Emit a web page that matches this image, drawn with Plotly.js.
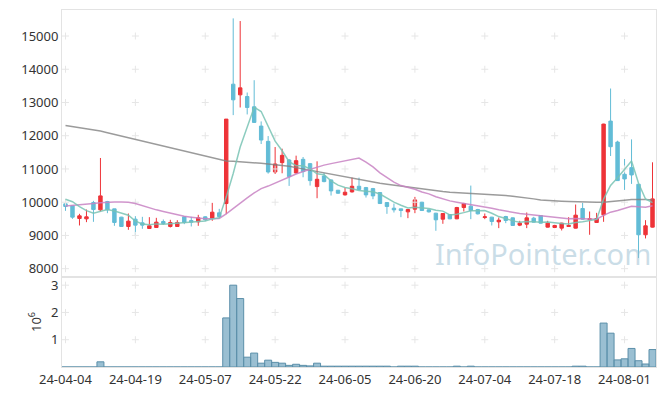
<!DOCTYPE html>
<html><head><meta charset="utf-8">
<script src="https://cdn.plot.ly/plotly-3.0.1.min.js"></script>
<style>html,body{margin:0;padding:0;background:#fff;}#chart{width:665px;height:396px;}</style>
</head><body><div id="chart"></div>
<script>
const dates = ["24-04-04","24-04-05","24-04-08","24-04-09","24-04-11","24-04-12","24-04-15","24-04-16","24-04-17","24-04-18","24-04-19","24-04-22","24-04-23","24-04-24","24-04-25","24-04-26","24-04-29","24-04-30",
"24-05-02","24-05-03","24-05-07","24-05-08","24-05-09","24-05-10","24-05-13","24-05-14","24-05-16","24-05-17","24-05-20","24-05-21","24-05-22","24-05-23","24-05-24","24-05-27","24-05-28","24-05-29","24-05-30","24-05-31",
"24-06-03","24-06-04","24-06-05","24-06-07","24-06-10","24-06-11","24-06-12","24-06-13","24-06-14","24-06-17","24-06-18","24-06-19","24-06-20","24-06-21","24-06-24","24-06-25","24-06-26","24-06-27","24-06-28",
"24-07-01","24-07-02","24-07-03","24-07-04","24-07-05","24-07-08","24-07-09","24-07-10","24-07-11","24-07-12","24-07-15","24-07-16","24-07-17","24-07-18","24-07-19","24-07-22","24-07-23","24-07-24","24-07-25","24-07-26","24-07-29","24-07-30","24-07-31",
"24-08-01","24-08-02","24-08-05","24-08-06","24-08-07"];

const openP = [9950,9890,9510,9500,9990,9770,10020,9800,9550,9270,9490,9380,9210,9240,9420,9270,9270,9560,9450,9410,9560,9510,9680,9960,13550,13230,13180,12870,12290,11830,10910,11190,11270,10880,11290,11160,10470,10790,10670,10360,10220,10310,10480,10440,10410,10290,9990,9820,9800,9710,9790,10000,9770,9670,9490,9630,9500,9840,9880,9780,9540,9550,9410,9570,9530,9310,9340,9520,9600,9250,9240,9220,9270,9220,9810,9480,9390,9620,12440,11810,10840,11040,10540,9020,9250];
const highP = [9960,9890,9650,9780,10040,11330,10040,9800,9560,9660,9580,9560,9550,9530,9480,9470,9460,9570,9560,9620,9580,9980,9800,12500,15530,15450,13300,13670,12430,11990,11660,11610,11300,11400,11360,11180,11230,10880,10680,10370,10440,10740,10740,10460,10430,10300,10000,9960,9800,9790,10160,10010,9780,9680,9670,9640,9860,9980,10500,9800,9660,9560,9540,9590,9540,9440,9690,9560,9610,9440,9320,9380,9550,9930,9980,9720,9680,12360,13420,11850,11300,11890,10550,9460,11200];
const lowP = [9740,9500,9300,9400,9410,9720,9670,9290,9260,9170,9010,9200,9200,9230,9320,9240,9260,9340,9270,9290,9430,9440,9530,9640,12620,12850,12640,12390,11750,10860,10850,10870,10490,10860,10750,10500,10120,10600,10200,10250,10200,10290,10360,10140,10090,9950,9650,9690,9550,9520,9670,9740,9690,9140,9350,9490,9490,9720,9490,9630,9490,9300,9220,9370,9290,9280,9220,9390,9360,9240,9220,9150,9260,9210,9480,9020,9380,9410,11390,10640,10370,10550,8320,8910,9240];
const closeP = [9870,9550,9590,9560,9780,10190,9770,9390,9270,9430,9310,9310,9290,9400,9360,9390,9390,9390,9400,9530,9470,9700,9570,12500,13080,13440,12850,12400,11870,10910,11150,11410,10770,11250,10920,10650,10690,10620,10340,10270,10300,10480,10380,10220,10190,9960,9870,9770,9750,9780,10070,9750,9710,9470,9660,9500,9840,9960,9750,9650,9560,9420,9460,9450,9300,9370,9530,9400,9370,9370,9300,9370,9300,9610,9490,9500,9510,12350,11670,10650,10700,10820,9020,9290,10100];

const ma5 = [10090,10015,9865,9745,9670,9734,9778,9738,9680,9610,9434,9342,9322,9348,9334,9350,9366,9386,9386,9420,9436,9498,9534,10154,10864,11658,12288,12854,12728,12294,11836,11548,11222,11098,11100,11000,10856,10826,10644,10514,10444,10402,10354,10330,10314,10246,10124,10002,9908,9826,9848,9824,9812,9756,9732,9618,9636,9686,9742,9740,9752,9668,9568,9508,9438,9400,9422,9410,9394,9408,9394,9362,9342,9390,9414,9454,9482,10092,10504,10736,10976,11238,10572,10096,9986];
const ma20 = [9886,9900,9920,9940,9960,9985,10000,10006,10006,9995,9960,9890,9820,9770,9720,9670,9620,9580,9550,9520,9500,9505,9510,9650,9815,9975,10130,10280,10410,10485,10575,10680,10755,10850,10925,10990,11055,11115,11160,11200,11240,11280,11330,11205,11060,10885,10735,10605,10500,10440,10390,10305,10250,10165,10100,10040,10000,9965,9935,9905,9870,9815,9770,9730,9690,9660,9640,9620,9600,9585,9545,9525,9505,9510,9500,9500,9490,9605,9700,9750,9810,9880,9860,9850,9890];
const ma120 = [12310,12280,12240,12210,12180,12140,12090,12040,11990,11940,11890,11840,11790,11740,11680,11630,11580,11520,11470,11420,11370,11320,11270,11240,11230,11220,11210,11190,11170,11150,11130,11110,11080,11040,11000,10950,10910,10870,10830,10800,10770,10730,10690,10650,10610,10570,10540,10510,10480,10450,10420,10390,10370,10340,10320,10300,10290,10280,10270,10260,10250,10240,10230,10200,10180,10160,10130,10100,10070,10050,10040,10030,10020,10010,10000,10000,9995,9995,10010,10040,10060,10080,10090,10080,10070];

// volume in millions of shares
const volume = [0,0,0,0,0,0.19,0,0,0,0,0,0,0,0,0,0,0,0,0,0,0,0,0,1.80,3.00,2.51,0.36,0.51,0.14,0.25,0.17,0.14,0.06,0.10,0.06,0.04,0.14,0.03,0.03,0.03,0.03,0.03,0.03,0.03,0.03,0.03,0.03,0,0.03,0.03,0.03,0,0,0,0,0,0.03,0,0.03,0,0,0,0,0,0,0,0,0,0,0,0,0,0,0.03,0.03,0,0,1.61,1.24,0.26,0.30,0.68,0.23,0.11,0.64];

const xTickLabels = ["24-04-04","24-04-19","24-05-07","24-05-22","24-06-05","24-06-20","24-07-04","24-07-18","24-08-01"];
const priceTicks = [8000,9000,10000,11000,12000,13000,14000,15000];
const volTicks = [1,2,3];

// grid "+" markers at tick intersections
const gx = [], gy = [], vx = [], vy = [];
xTickLabels.forEach(d => { priceTicks.forEach(p => { gx.push(d); gy.push(p); }); volTicks.forEach(v => { vx.push(d); vy.push(v); }); });

const crossMarker = {symbol:'cross-thin', size:5, color:'#e6e6e6', line:{color:'#e6e6e6', width:1}};
const fontFam = '"Noto Sans", "Open Sans", sans-serif';

const traces = [
  {type:'scatter', mode:'markers', x:gx, y:gy, xaxis:'x', yaxis:'y', marker:crossMarker, hoverinfo:'skip', showlegend:false},
  {type:'scatter', mode:'markers', x:vx, y:vy, xaxis:'x2', yaxis:'y2', marker:crossMarker, hoverinfo:'skip', showlegend:false},
  {type:'scatter', mode:'lines', x:dates, y:ma120, xaxis:'x', yaxis:'y', line:{color:'rgba(130,130,130,0.8)', width:1.5}, hoverinfo:'skip', showlegend:false},
  {type:'scatter', mode:'lines', x:dates, y:ma20, xaxis:'x', yaxis:'y', line:{color:'rgba(200,130,195,0.85)', width:1.5}, hoverinfo:'skip', showlegend:false},
  {type:'scatter', mode:'lines', x:dates, y:ma5, xaxis:'x', yaxis:'y', line:{color:'rgba(120,195,180,0.85)', width:1.5}, hoverinfo:'skip', showlegend:false},
  {type:'candlestick', x:dates, open:openP, high:highP, low:lowP, close:closeP, xaxis:'x', yaxis:'y',
   increasing:{line:{color:'#ee3338', width:1}, fillcolor:'#ee3338'},
   decreasing:{line:{color:'#62bcd6', width:1}, fillcolor:'#62bcd6'},
   whiskerwidth:0, hoverinfo:'skip', showlegend:false},
  {type:'bar', x:dates, y:volume, xaxis:'x2', yaxis:'y2',
   marker:{color:'rgba(120,170,195,0.75)', line:{color:'#5b8fa9', width:1}}, hoverinfo:'skip', showlegend:false}
];

const volFrac = 90/357;
const layout = {
  width:665, height:396,
  margin:{l:62, r:9, t:10, b:29},
  paper_bgcolor:'#fff', plot_bgcolor:'#fff',
  showlegend:false, hovermode:false, bargap:0,
  font:{family:fontFam, size:13, color:'#333'},
  xaxis:{type:'category', categoryorder:'array', categoryarray:dates, range:[-0.5, 84.5], anchor:'y',
         showticklabels:false, showgrid:false, zeroline:false, showline:true, mirror:true, linecolor:'#e3e3e3', linewidth:1,
         rangeslider:{visible:false}, ticks:''},
  xaxis2:{type:'category', categoryorder:'array', categoryarray:dates, range:[-0.5, 84.5], anchor:'y2', matches:'x',
          tickmode:'array', tickvals:xTickLabels, ticktext:xTickLabels, tickangle:0,
          showgrid:false, zeroline:false, showline:true, mirror:true, linecolor:'#e3e3e3', linewidth:1, ticks:'',
          tickfont:{size:13, color:'#333'}},
  yaxis:{domain:[volFrac, 1], range:[7750, 15782], tickmode:'array', tickvals:priceTicks, ticktext:priceTicks.map(String),
         showgrid:false, zeroline:false, showline:true, mirror:true, linecolor:'#e3e3e3', linewidth:1, ticks:'',
         tickfont:{size:13, color:'#333'}},
  yaxis2:{domain:[0, volFrac], range:[0, 3.3], tickmode:'array', tickvals:volTicks, ticktext:volTicks.map(String),
          showgrid:false, zeroline:false, showline:true, mirror:true, linecolor:'#e3e3e3', linewidth:1, ticks:'',
          tickfont:{size:13, color:'#333'},
          title:{text:'10<sup>6</sup>', font:{size:13, color:'#333'}, standoff:6}},
  annotations:[{text:'InfoPointer.com', xref:'paper', yref:'paper', x:1, xshift:-3, y:volFrac, yshift:2, xanchor:'right', yanchor:'bottom',
                showarrow:false, font:{family:fontFam, size:29, color:'rgba(150,188,208,0.5)'}}]
};

Plotly.newPlot('chart', traces, layout, {displayModeBar:false, staticPlot:true});
</script>
</body></html>
